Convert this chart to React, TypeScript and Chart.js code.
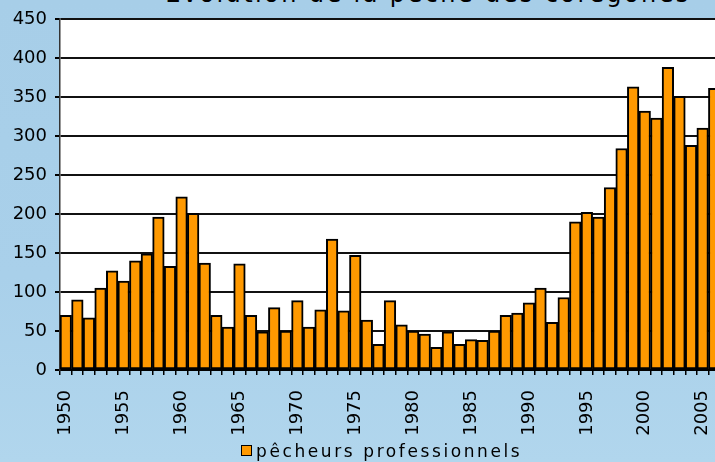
import React, { useEffect, useRef } from "react";
import { Chart, registerables } from "chart.js";

Chart.register(...registerables);

const years: number[] = [
  1950, 1951, 1952, 1953, 1954, 1955, 1956, 1957, 1958, 1959,
  1960, 1961, 1962, 1963, 1964, 1965, 1966, 1967, 1968, 1969,
  1970, 1971, 1972, 1973, 1974, 1975, 1976, 1977, 1978, 1979,
  1980, 1981, 1982, 1983, 1984, 1985, 1986, 1987, 1988, 1989,
  1990, 1991, 1992, 1993, 1994, 1995, 1996, 1997, 1998, 1999,
  2000, 2001, 2002, 2003, 2004, 2005, 2006,
];

const pecheursProfessionnels: number[] = [
  70, 90, 67, 105, 127, 114, 140, 149, 196, 133,
  222, 201, 137, 70, 55, 136, 70, 49, 80, 50,
  89, 55, 77, 168, 76, 147, 64, 33, 89, 58,
  50, 46, 29, 49, 33, 39, 38, 50, 70, 73,
  86, 105, 61, 93, 190, 202, 196, 234, 284, 363,
  332, 323, 388, 351, 288, 310, 361,
];

const yTicks: number[] = [0, 50, 100, 150, 200, 250, 300, 350, 400, 450];

const titleText = "Evolution de la pêche des corégones";
const seriesLabel = "pêcheurs professionnels";
const FONT = "'DejaVu Sans', sans-serif";

export default function App() {
  const canvasRef = useRef<HTMLCanvasElement | null>(null);

  useEffect(() => {
    const canvas = canvasRef.current;
    if (!canvas) return;
    const plotBg = {
      id: "plotBg",
      beforeDraw(chart: any) {
        const { ctx, chartArea } = chart;
        if (!chartArea) return;
        ctx.save();
        ctx.fillStyle = "#ffffff";
        ctx.fillRect(chartArea.left, chartArea.top, chartArea.width, chartArea.height);
        ctx.restore();
      },
    };
    const chart = new Chart(canvas, {
      type: "bar",
      data: {
        labels: years.map(String),
        datasets: [
          {
            label: seriesLabel,
            data: pecheursProfessionnels,
            backgroundColor: "#FF9900",
            borderColor: "#000000",
            borderWidth: 2,
            borderSkipped: false,
            barPercentage: 1,
            categoryPercentage: 1,
          },
        ],
      },
      options: {
        responsive: false,
        maintainAspectRatio: false,
        animation: false,
        layout: { padding: { top: 19, right: 0, bottom: 0, left: 0 } },
        plugins: {
          legend: { display: false },
          title: { display: false },
          tooltip: { enabled: false },
        },
        scales: {
          x: {
            type: "category",
            offset: true,
            afterFit(scale: any) {
              scale.height = 92;
              scale.paddingLeft = 0;
              scale.paddingRight = 0;
            },
            grid: {
              display: true,
              drawOnChartArea: false,
              drawTicks: true,
              tickLength: 5,
              offset: true,
              color: "#000000",
              lineWidth: 1.5,
            },
            border: { display: true, color: "#000000", width: 2 },
            ticks: {
              autoSkip: false,
              minRotation: 90,
              maxRotation: 90,
              padding: 15,
              color: "#000000",
              font: { family: FONT, size: 18 },
              callback: (_v: any, i: number) =>
                years[i] % 5 === 0 ? String(years[i]) : "",
            },
          },
          y: {
            min: 0,
            max: 450,
            afterFit(scale: any) {
              scale.width = 60;
            },
            afterBuildTicks(scale: any) {
              scale.ticks = yTicks.map((v) => ({ value: v }));
            },
            grid: {
              color: "#111111",
              lineWidth: 2,
              drawTicks: true,
              tickLength: 5,
              tickColor: "#000000",
            },
            border: { display: true, color: "#333333", width: 1.5 },
            ticks: {
              padding: 8,
              color: "#000000",
              font: { family: FONT, size: 18 },
            },
          },
        },
      },
      plugins: [plotBg],
    });
    return () => chart.destroy();
  }, []);

  return (
    <div
      style={{
        position: "fixed",
        left: 0,
        top: 0,
        width: 715,
        height: 462,
        overflow: "hidden",
        background: "linear-gradient(180deg, #a7cee8 0%, #a9d0ea 60%, #b1d6ed 100%)",
      }}
    >
      <div
        style={{
          position: "absolute",
          left: 0,
          top: -18,
          width: 856,
          textAlign: "center",
          fontFamily: FONT,
          fontSize: 24,
          lineHeight: "24px",
          letterSpacing: "2.4px",
          color: "#000",
          whiteSpace: "nowrap",
        }}
      >
        {titleText}
      </div>
      <canvas
        ref={canvasRef}
        width={720}
        height={462}
        style={{ position: "absolute", left: 0, top: 0, width: 720, height: 462, display: "block" }}
      />
      <div
        style={{
          position: "absolute",
          left: 241,
          top: 445,
          width: 9,
          height: 9,
          background: "#FF9900",
          border: "1.5px solid #000",
        }}
      />
      <div
        style={{
          position: "absolute",
          left: 256,
          top: 442.6,
          fontFamily: FONT,
          fontSize: 17,
          lineHeight: "17px",
          letterSpacing: "2.6px",
          color: "#000",
          whiteSpace: "nowrap",
        }}
      >
        {seriesLabel}
      </div>
    </div>
  );
}
